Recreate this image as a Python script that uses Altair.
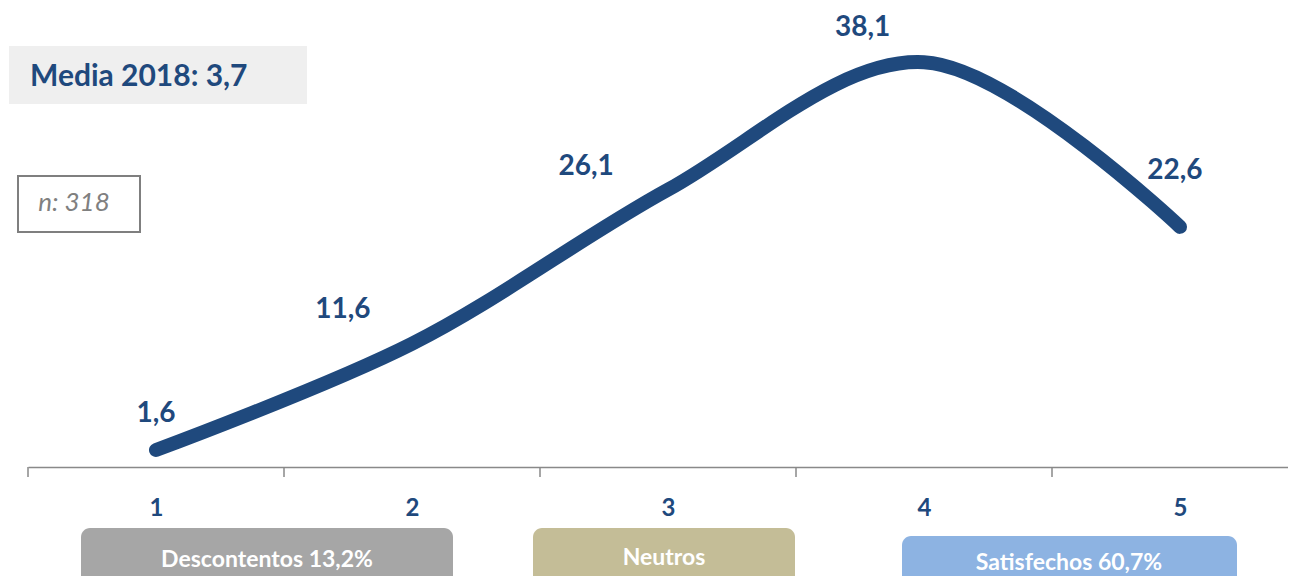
import altair as alt
import pandas as pd

# ---- data ----
categories = [1, 2, 3, 4, 5]
values = [1.6, 11.6, 26.1, 38.1, 22.6]
value_labels = ["1,6", "11,6", "26,1", "38,1", "22,6"]
# label anchor positions in data units (x category units, y percentage units)
label_x = [1.0, 1.73, 2.68, 3.76, 4.98]
label_y = [5.0, 14.8, 28.2, 41.3, 27.9]
tick_positions = [0.5, 1.5, 2.5, 3.5, 4.5]

BLUE = "#1F497D"
FONT = "Lato"

df = pd.DataFrame({"cat": categories, "val": values})
lab = pd.DataFrame({"lx": label_x, "ly": label_y, "txt": value_labels})
ticks = pd.DataFrame({"t": tick_positions})
one = pd.DataFrame({"a": [0]})

xs = alt.Scale(domain=[0.5, 5.5], range=[20, 1300], nice=False, zero=False)
ys = alt.Scale(domain=[0, 43.2], nice=False, zero=True)

line = alt.Chart(df).mark_line(
    color=BLUE, strokeWidth=14, strokeCap="round", interpolate="catmull-rom"
).encode(
    x=alt.X("cat:Q", scale=xs, axis=alt.Axis(
        values=categories, ticks=False, grid=False, title=None, format="d",
        domainColor="#898989", domainWidth=1.5, labelFont=FONT, labelFontSize=24,
        labelFontWeight="bold", labelColor=BLUE, labelPadding=29, labelFlush=False)),
    y=alt.Y("val:Q", scale=ys, axis=None),
)

tick_rules = alt.Chart(ticks).mark_rule(color="#898989", strokeWidth=1.5).encode(
    x=alt.X("t:Q", scale=xs),
    y=alt.value(459),
    y2=alt.value(469),
)

labels = alt.Chart(lab).mark_text(
    font=FONT, fontSize=28, fontWeight="bold", color=BLUE, baseline="middle", align="center"
).encode(
    x=alt.X("lx:Q", scale=xs),
    y=alt.Y("ly:Q", scale=ys),
    text="txt:N",
)


def box(x1, x2, y1, y2, fill, stroke=None, radius=0):
    kw = dict(fill=fill, cornerRadius=radius)
    if stroke:
        kw.update(stroke=stroke, strokeWidth=2)
    return alt.Chart(one).mark_rect(**kw).encode(
        x=alt.value(x1), x2=alt.value(x2), y=alt.value(y1), y2=alt.value(y2)
    )


def txt(s, x, y, size, color, weight="bold", style="normal", align="center"):
    return alt.Chart(one).mark_text(
        text=s, font=FONT, fontSize=size, fontWeight=weight, fontStyle=style,
        color=color, align=align, baseline="middle"
    ).encode(x=alt.value(x), y=alt.value(y))


media_box = box(1, 299, 38, 96, "#EFEFEF")
media_txt = txt("Media 2018: 3,7", 22, 69, 30, BLUE, align="left")
n_box = box(10, 132, 168, 224, "white", stroke="#7F7F7F")
n_txt = txt("n: 318", 66, 195, 26, "#808080", weight="normal", style="italic")

d_box = box(73, 445, 520, 640, "#A6A6A6", radius=9)
d_txt = txt("Descontentos 13,2%", 259, 552, 23, "white")
ne_box = box(525, 787, 520, 640, "#C4BD97", radius=9)
ne_txt = txt("Neutros", 656, 550, 23, "white")
s_box = box(894, 1229, 528, 640, "#8DB3E2", radius=9)
s_txt = txt("Satisfechos 60,7%", 1061, 555, 23, "white")

chart = alt.layer(
    media_box, media_txt, n_box, n_txt, d_box, d_txt, ne_box, ne_txt, s_box, s_txt,
    tick_rules, line, labels
).properties(
    width=1280, height=459,
    padding={"left": 0, "top": 0, "right": 0, "bottom": 109},
    autosize=alt.AutoSizeParams(type="none"),
).configure_view(stroke=None)

chart.save("out.html", embed_options={"renderer": "svg", "actions": False})
